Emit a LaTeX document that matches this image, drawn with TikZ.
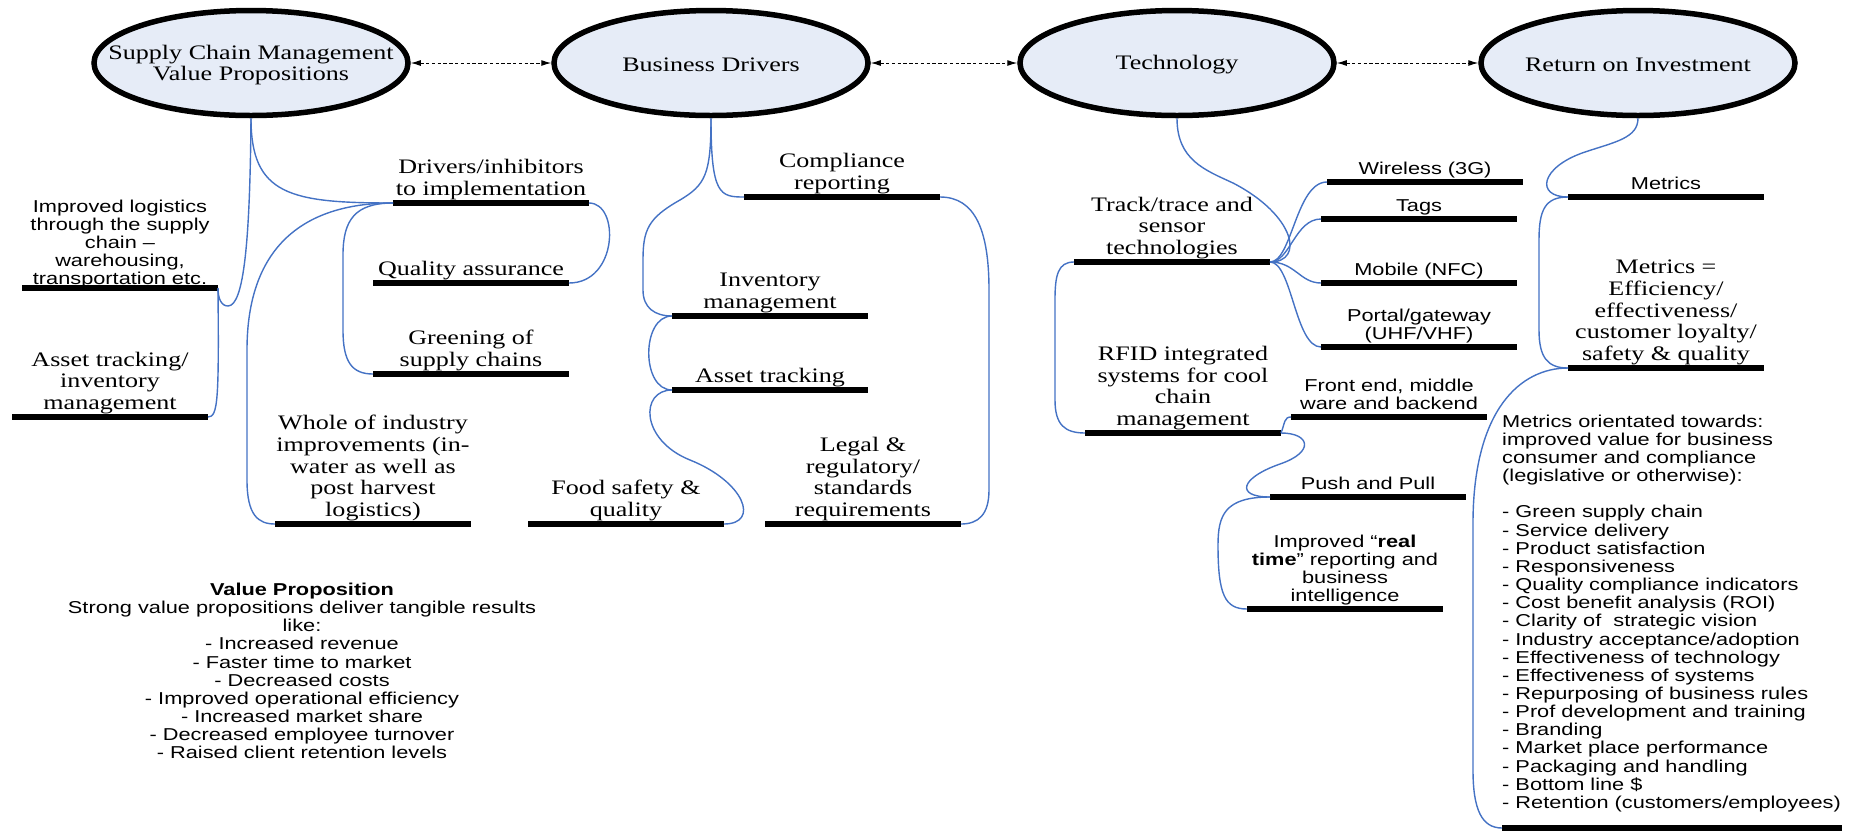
\documentclass[tikz,border=0pt]{standalone}
\usepackage{fontspec}
\setmainfont{Liberation Serif}[FakeStretch=1.265]
\newfontfamily\arialf{Liberation Sans}[FakeStretch=1.265]
\usetikzlibrary{shapes.geometric,arrows.meta}
\newcommand\serifsz{\rmfamily\fontsize{20.6}{21.7}\selectfont}
\newcommand\sanssz{\arialf\fontsize{17.2}{18.15}\selectfont}
\definecolor{ellfill}{RGB}{230,236,247}
\definecolor{conblue}{RGB}{68,114,196}
\tikzset{
 ell/.style={ellipse, draw=black, line width=5.5pt, fill=ellfill, minimum width=314pt, minimum height=105pt, inner sep=0pt},
 bar/.style={rectangle, fill=black, minimum width=196pt, minimum height=6pt, inner sep=0pt, outer sep=0pt},
 lab/.style={anchor=south, inner sep=0pt, align=center, font=\serifsz, execute at end node=\strut, yshift=-2.2pt},
 labs/.style={anchor=south, inner sep=0pt, align=center, font=\sanssz, execute at end node=\strut, yshift=-1.5pt},
 etext/.style={inner sep=0pt, align=center, font=\serifsz, yshift=-2pt},
 con/.style={draw=conblue, line width=1.4pt},
 link/.style={draw=black, line width=1pt, dash pattern=on 3.3pt off 2.5pt, {Latex[length=10pt,width=6pt]}-{Latex[length=10pt,width=6pt]}}
}
\begin{document}
\begin{tikzpicture}[x=1pt,y=-1pt]
\useasboundingbox (0,0) rectangle (1856,831);
% main ellipses
\node[ell] (n1) at (251,63) {};
\node[ell] (n2) at (711,63) {};
\node[ell] (n3) at (1177,63) {};
\node[ell] (n4) at (1638,63) {};
\node[etext] (n1T) at (n1) {Supply Chain Management\\Value Propositions};
\node[etext] (n2T) at (n2) {Business Drivers};
\node[etext] (n3T) at (n3) {Technology};
\node[etext] (n4T) at (n4) {Return on Investment};
\draw[link] (n1.east) -- (n2.west);
\draw[link] (n2.east) -- (n3.west);
\draw[link] (n3.east) -- (n4.west);
% bars
\node[bar] (dr) at (491,203) {};
\node[bar] (qa) at (471,283) {};
\node[bar] (gr) at (471,374) {};
\node[bar] (lg) at (120,288) {};
\node[bar] (at1) at (110,417) {};
\node[bar] (wh) at (373,524) {};
\node[bar] (cr) at (842,197) {};
\node[bar] (im) at (770,316) {};
\node[bar] (as) at (770,390) {};
\node[bar] (fs) at (626,524) {};
\node[bar] (le) at (863,524) {};
\node[bar] (tt) at (1172,262) {};
\node[bar] (wi) at (1425,182) {};
\node[bar] (tg) at (1419,219) {};
\node[bar] (mo) at (1419,283) {};
\node[bar] (po) at (1419,347) {};
\node[bar] (rf) at (1183,433) {};
\node[bar] (fe) at (1389,417) {};
\node[bar] (pp) at (1368,497) {};
\node[bar] (rt) at (1345,609) {};
\node[bar] (me) at (1666,197) {};
\node[bar] (mq) at (1666,368) {};
\node[bar, minimum width=340pt] (bb) at (1672,828) {};
% labels
\node[lab] (drT) at (dr.north) {Drivers/inhibitors\\to implementation};
\node[lab] (qaT) at (qa.north) {Quality assurance};
\node[lab] (grT) at (gr.north) {Greening of\\supply chains};
\node[labs, yshift=-4pt] (lgT) at (lg.north) {Improved logistics\\through the supply\\chain –\\warehousing,\\transportation etc.};
\node[lab] (at1T) at (at1.north) {Asset tracking/\\inventory\\management};
\node[lab] (whT) at (wh.north) {Whole of industry\\improvements (in-\\water as well as\\post harvest\\logistics)};
\node[lab] (crT) at (cr.north) {Compliance\\reporting};
\node[lab] (imT) at (im.north) {Inventory\\management};
\node[lab] (asT) at (as.north) {Asset tracking};
\node[lab] (fsT) at (fs.north) {Food safety \&\\quality};
\node[lab] (leT) at (le.north) {Legal \&\\regulatory/\\standards\\requirements};
\node[lab] (ttT) at (tt.north) {Track/trace and\\sensor\\technologies};
\node[labs] (wiT) at (wi.north) {Wireless (3G)};
\node[labs] (tgT) at (tg.north) {Tags};
\node[labs] (moT) at (mo.north) {Mobile (NFC)};
\node[labs] (poT) at (po.north) {Portal/gateway\\(UHF/VHF)};
\node[lab] (rfT) at (rf.north) {RFID integrated\\systems for cool\\chain\\management};
\node[labs] (feT) at (fe.north) {Front end, middle\\ware and backend};
\node[labs] (ppT) at (pp.north) {Push and Pull};
\node[labs] (rtT) at (rt.north) {Improved “\textbf{real}\\\textbf{time}” reporting and\\business\\intelligence};
\node[labs] (meT) at (me.north) {Metrics};
\node[lab] (mqT) at (mq.north) {Metrics =\\Efficiency/\\effectiveness/\\customer loyalty/\\safety \& quality};
\node[anchor=south west, inner sep=0pt, align=left, font=\sanssz, execute at end node=\strut] (roiT) at (1502,814) {Metrics orientated towards:\\improved value for business\\consumer and compliance\\(legislative or otherwise):\\[18.15pt]- Green supply chain\\- Service delivery\\- Product satisfaction\\- Responsiveness\\- Quality compliance indicators\\- Cost benefit analysis (ROI)\\- Clarity of\ \ strategic vision\\- Industry acceptance/adoption\\- Effectiveness of technology\\- Effectiveness of systems\\- Repurposing of business rules\\- Prof development and training\\- Branding\\- Market place performance\\- Packaging and handling\\- Bottom line \$\\- Retention (customers/employees)};
\node[labs] (vpT) at (302,763) {\textbf{Value Proposition}\\Strong value propositions deliver tangible results\\like:\\- Increased revenue\\- Faster time to market\\- Decreased costs\\- Improved operational efficiency\\- Increased market share\\- Decreased employee turnover\\- Raised client retention levels};
% connectors: SCM
\draw[con] (n1.south) .. controls (251,195) and (290,203) .. (dr.west);
\draw[con] (n1.south) .. controls (250,240) and (244,306) .. (228,306) .. controls (221,306) and (218,298) .. (lg.east);
\draw[con] (lg.east) .. controls (219,400) and (218,417) .. (at1.east);
\draw[con] (dr.west) .. controls (300,203) and (247,250) .. (247,350) -- (247,480) .. controls (247,515) and (258,524) .. (wh.west);
\draw[con] (dr.east) .. controls (620,203) and (618,283) .. (qa.east);
\draw[con] (dr.west) .. controls (355,203) and (343,220) .. (343,255) -- (343,330) .. controls (343,362) and (352,374) .. (gr.west);
% connectors: Business drivers
\draw[con] (n2.south) .. controls (711,195) and (720,197) .. (cr.west);
\draw[con] (n2.south) .. controls (711,175) and (705,185) .. (680,200) .. controls (648,218) and (643,230) .. (643,260) -- (643,290) .. controls (643,308) and (655,316) .. (im.west);
\draw[con] (im.west) .. controls (641,316) and (641,390) .. (as.west);
\draw[con] (as.west) .. controls (640,390) and (640,440) .. (690,460) .. controls (745,482) and (760,524) .. (fs.east);
\draw[con] (cr.east) .. controls (975,197) and (989,230) .. (989,290) -- (989,490) .. controls (989,515) and (978,524) .. (le.east);
% connectors: Technology
\draw[con] (n3.south) .. controls (1177,160) and (1205,170) .. (1233,183) .. controls (1295,215) and (1305,262) .. (tt.east);
\draw[con] (tt.east) .. controls (1292,262) and (1296,182) .. (wi.west);
\draw[con] (tt.east) .. controls (1290,262) and (1295,219) .. (tg.west);
\draw[con] (tt.east) .. controls (1295,262) and (1300,283) .. (mo.west);
\draw[con] (tt.east) .. controls (1292,262) and (1295,347) .. (po.west);
\draw[con] (tt.west) .. controls (1058,262) and (1055,275) .. (1055,300) -- (1055,400) .. controls (1055,425) and (1065,433) .. (rf.west);
\draw[con] (rf.east) .. controls (1285,423) and (1284,417) .. (fe.west);
\draw[con] (rf.east) .. controls (1310,433) and (1315,452) .. (1280,464) .. controls (1240,478) and (1235,497) .. (pp.west);
\draw[con] (pp.west) .. controls (1225,497) and (1218,515) .. (1218,545) .. controls (1218,595) and (1225,609) .. (rt.west);
% connectors: ROI
\draw[con] (n4.south) .. controls (1638,138) and (1615,142) .. (1585,152) .. controls (1540,167) and (1535,197) .. (me.west);
\draw[con] (me.west) .. controls (1545,197) and (1539,210) .. (1539,240) -- (1539,330) .. controls (1539,358) and (1548,368) .. (mq.west);
\draw[con] (mq.west) .. controls (1520,368) and (1474,410) .. (1473,520) -- (1473,770) .. controls (1473,810) and (1482,828) .. (bb.west);
\end{tikzpicture}
\end{document}
